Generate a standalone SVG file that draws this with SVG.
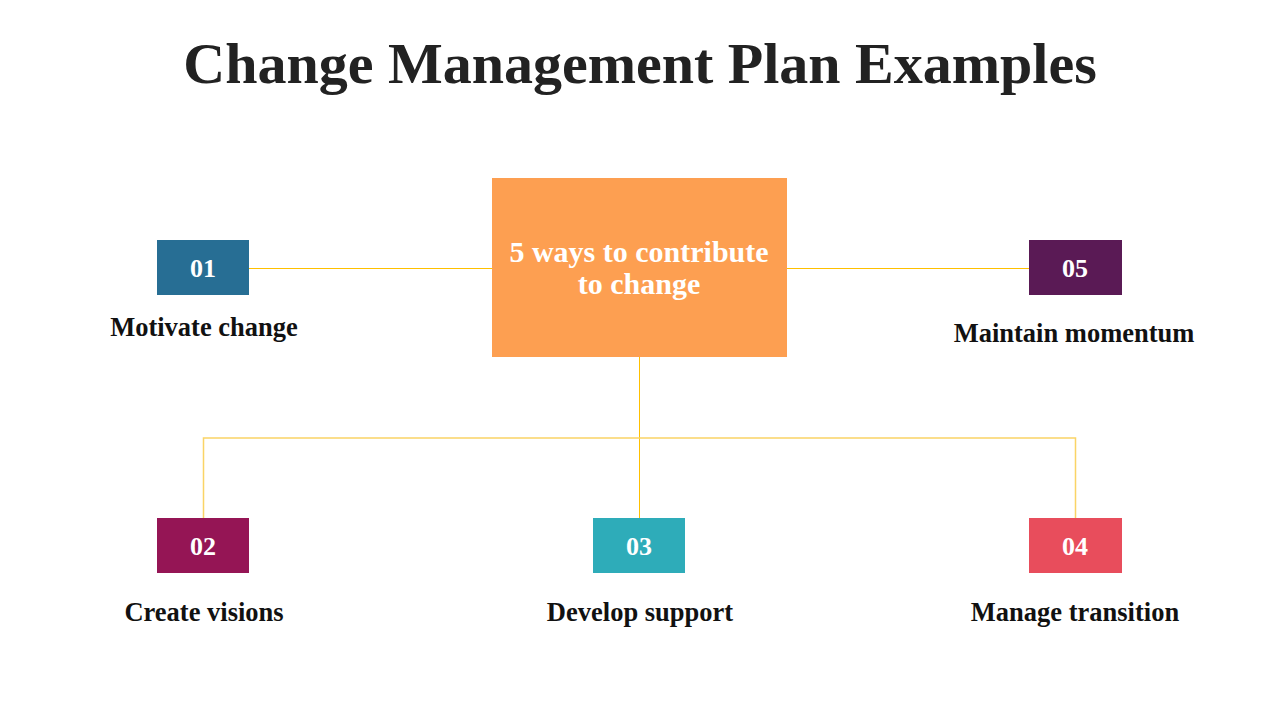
<svg xmlns="http://www.w3.org/2000/svg" width="1280" height="720" viewBox="0 0 1280 720">
<style>
.title{font-family:"Liberation Serif","DejaVu Serif",serif;font-weight:bold;font-size:58px;fill:#222222;text-anchor:middle}
.num{font-family:"Liberation Serif","DejaVu Serif",serif;font-weight:bold;font-size:26px;fill:#ffffff;text-anchor:middle}
.lbl{font-family:"Liberation Serif","DejaVu Serif",serif;font-weight:bold;font-size:26.5px;fill:#111111;text-anchor:middle}
.ctr{font-family:"Liberation Serif","DejaVu Serif",serif;font-weight:bold;font-size:30px;fill:#ffffff;text-anchor:middle}
.ln{stroke:#FFC000;stroke-width:1;fill:none}
.ln2{stroke:#FAD466;stroke-width:1.5;fill:none}
</style>
<rect width="1280" height="720" fill="#ffffff"/>
<text class="title" x="640" y="83">Change Management Plan Examples</text>
<g id="connectors">
<line class="ln" x1="249" y1="268.5" x2="492" y2="268.5"/>
<line class="ln" x1="787" y1="268.5" x2="1029" y2="268.5"/>
<line class="ln" x1="639.5" y1="357" x2="639.5" y2="518"/>
<polyline class="ln2" points="203.5,518 203.5,438 1075.5,438 1075.5,518"/>
</g>
<g id="center">
<rect x="492" y="178" width="295" height="179" fill="#FD9F51"/>
<text class="ctr" x="639" y="262">5 ways to contribute</text>
<text class="ctr" x="639" y="294">to change</text>
</g>
<g id="n01">
<rect x="157" y="240" width="92" height="55" fill="#276E94"/>
<text class="num" x="203" y="277">01</text>
<text class="lbl" x="204" y="336">Motivate change</text>
</g>
<g id="n05">
<rect x="1029" y="240" width="93" height="55" fill="#5A1A55"/>
<text class="num" x="1075" y="277">05</text>
<text class="lbl" x="1074" y="342">Maintain momentum</text>
</g>
<g id="n02">
<rect x="157" y="518" width="92" height="55" fill="#951555"/>
<text class="num" x="203" y="555">02</text>
<text class="lbl" x="204" y="621">Create visions</text>
</g>
<g id="n03">
<rect x="593" y="518" width="92" height="55" fill="#2EACB9"/>
<text class="num" x="639" y="555">03</text>
<text class="lbl" x="640" y="621">Develop support</text>
</g>
<g id="n04">
<rect x="1029" y="518" width="93" height="55" fill="#E84D5C"/>
<text class="num" x="1075" y="555">04</text>
<text class="lbl" x="1075" y="621">Manage transition</text>
</g>
</svg>
